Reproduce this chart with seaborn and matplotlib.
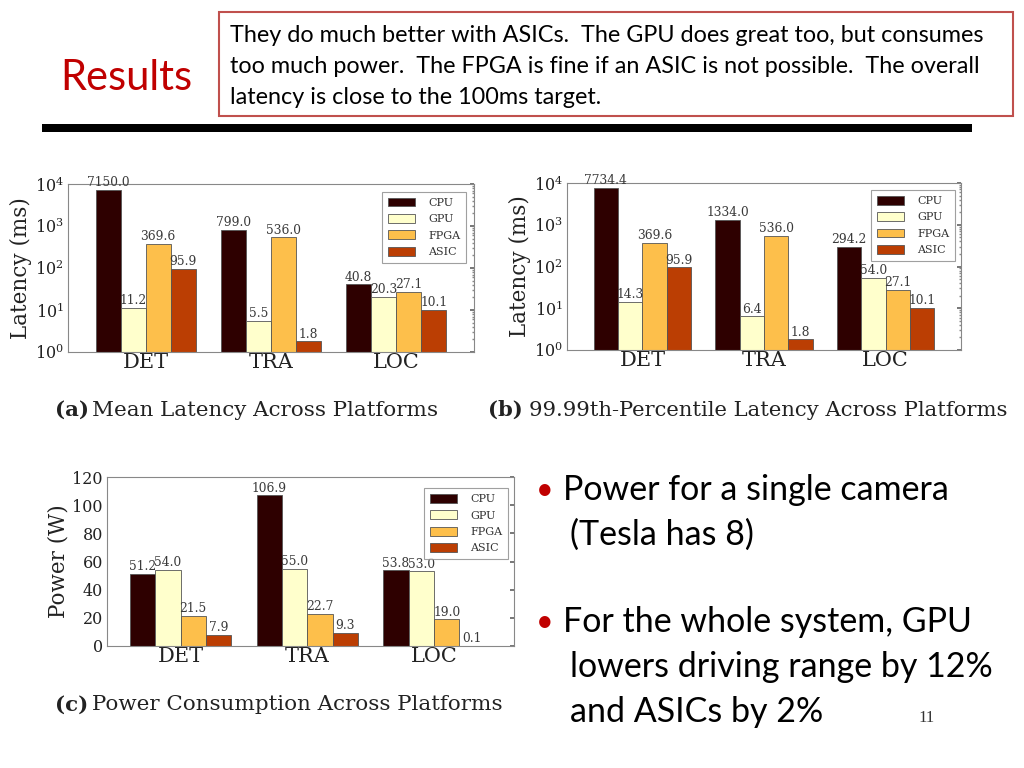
import matplotlib
matplotlib.use("Agg")
import matplotlib.pyplot as plt
from matplotlib.patches import Rectangle
import seaborn as sns
import pandas as pd

# ---------------- data ----------------
workloads = ["DET", "TRA", "LOC"]
platforms = ["CPU", "GPU", "FPGA", "ASIC"]
mean_latency = {"CPU": [7150.0, 799.0, 40.8], "GPU": [11.2, 5.5, 20.3],
                "FPGA": [369.6, 536.0, 27.1], "ASIC": [95.9, 1.8, 10.1]}
tail_latency = {"CPU": [7734.4, 1334.0, 294.2], "GPU": [14.3, 6.4, 54.0],
                "FPGA": [369.6, 536.0, 27.1], "ASIC": [95.9, 1.8, 10.1]}
power = {"CPU": [51.2, 106.9, 53.8], "GPU": [54.0, 55.0, 53.0],
         "FPGA": [21.5, 22.7, 19.0], "ASIC": [7.9, 9.3, 0.1]}
colors = ["#2e0000", "#ffffcc", "#fdbf4b", "#bb3e03"]

title_text = "Results"
box_lines = ["They do much better with ASICs.  The GPU does great too, but consumes",
             "too much power.  The FPGA is fine if an ASIC is not possible.  The overall",
             "latency is close to the 100ms target."]
captions = [("(a)", "Mean Latency Across Platforms"),
            ("(b)", "99.99th-Percentile Latency Across Platforms"),
            ("(c)", "Power Consumption Across Platforms")]
bullets = [["Power for a single camera", "(Tesla has 8)"],
           ["For the whole system, GPU", "lowers driving range by 12%", "and ASICs by 2%"]]
page_no = "11"


def to_long(d):
    rows = []
    for p in platforms:
        for w, v in zip(workloads, d[p]):
            rows.append({"workload": w, "platform": p, "value": v})
    return pd.DataFrame(rows)


sns.set_theme(style="white")
plt.rcParams["font.family"] = ["DejaVu Serif"]

W, H = 1024, 768
fig = plt.figure(figsize=(W / 100, H / 100), dpi=100)
fig.patch.set_facecolor("white")


def px_axes(l, r, t, b):
    return fig.add_axes([l / W, 1 - b / H, (r - l) / W, (b - t) / H])


def draw(ax, d, log, ylabel, xlim, legend_pos):
    df = to_long(d)
    if log:
        ax.set_yscale("log")
    sns.barplot(data=df, x="workload", y="value", hue="platform",
                hue_order=platforms, palette=colors, saturation=1,
                edgecolor="#555555", linewidth=0.6, ax=ax, width=0.8)
    for c in ax.containers:
        ax.bar_label(c, fmt="%.1f", padding=0.5, fontsize=8.8, color="#3a3a3a")
    ax.set_xlim(*xlim)
    if log:
        ax.set_ylim(1, 1e4)
    else:
        ax.set_ylim(0, 120)
        ax.set_yticks(range(0, 121, 20))
    ax.set_xlabel("")
    ax.set_ylabel(ylabel, fontsize=15.5, color="#222222", labelpad=2)
    ax.tick_params(axis="x", labelsize=15, length=0, pad=1, colors="#222222")
    ax.tick_params(axis="y", which="both", direction="in", right=True,
                   labelsize=11.5, pad=3, colors="#222222")
    ax.tick_params(axis="y", which="major", length=3, color="#666666")
    ax.tick_params(axis="y", which="minor", length=1.5, color="#888888")
    for s in ax.spines.values():
        s.set_color("#888888")
        s.set_linewidth(0.8)
    leg = ax.legend(loc="upper right", bbox_to_anchor=legend_pos, fontsize=8.0,
                    frameon=True, fancybox=False, edgecolor="#888888",
                    handlelength=2.4, handleheight=0.85, borderpad=0.5,
                    labelspacing=0.55, handletextpad=1.2)
    leg.get_frame().set_linewidth(0.8)
    leg.set_zorder(5)
    for t in leg.get_texts():
        t.set_color("#333333")


ax_a = px_axes(68, 474, 184, 352)
draw(ax_a, mean_latency, True, "Latency (ms)", (-0.62, 2.62), (0.993, 0.985))
ax_b = px_axes(567, 961, 183, 350)
draw(ax_b, tail_latency, True, "Latency (ms)", (-0.62, 2.62), (0.998, 0.99))
ax_c = px_axes(107, 514, 477, 646)
draw(ax_c, power, False, "Power (W)", (-0.58, 2.63), (0.998, 0.965))

# captions
cap_pos = [(55, 92, 410, 15.4), (488, 529, 410, 15.2), (55, 92, 705, 15.4)]
for (lab, rest), (x1, x2, y, fs) in zip(captions, cap_pos):
    fig.text(x1 / W, 1 - y / H, lab, fontsize=fs, fontweight="bold",
             family=["DejaVu Serif"], va="center", color="#222222")
    fig.text(x2 / W, 1 - y / H, rest, fontsize=fs,
             family=["DejaVu Serif"], va="center", color="#222222")

# slide heading
fig.text(60 / W, 1 - 78 / H, title_text, fontsize=30, color="#c00000",
         family=["Lato"], va="center")
fig.patches.append(Rectangle((219 / W, 1 - 116 / H), (1013 - 219) / W, 104 / H,
                             transform=fig.transFigure, fill=False,
                             edgecolor="#c0504d", linewidth=1.5))
for i, line in enumerate(box_lines):
    fig.text(230 / W, 1 - (36 + 30.5 * i) / H, line, fontsize=16.8,
             family=["Lato"], va="center", color="black")
fig.patches.append(Rectangle((42 / W, 1 - 132 / H), (972 - 42) / W, 8 / H,
                             transform=fig.transFigure, facecolor="black",
                             edgecolor="none"))

# bullets
y_starts = [490, 622]
for group, y0 in zip(bullets, y_starts):
    fig.text(536 / W, 1 - y0 / H, "\u2022", fontsize=22, color="#c00000",
             family=["Lato", "DejaVu Sans"], va="center")
    for j, line in enumerate(group):
        x = 563 if j == 0 else 570
        fig.text(x / W, 1 - (y0 + 45 * j) / H, line, fontsize=24.5,
                 family=["Lato"], va="center", color="black")

fig.text(918 / W, 1 - 718 / H, page_no, fontsize=12, family=["Liberation Serif"],
         va="center", color="#333333")

fig.savefig("out.png", dpi=100)
